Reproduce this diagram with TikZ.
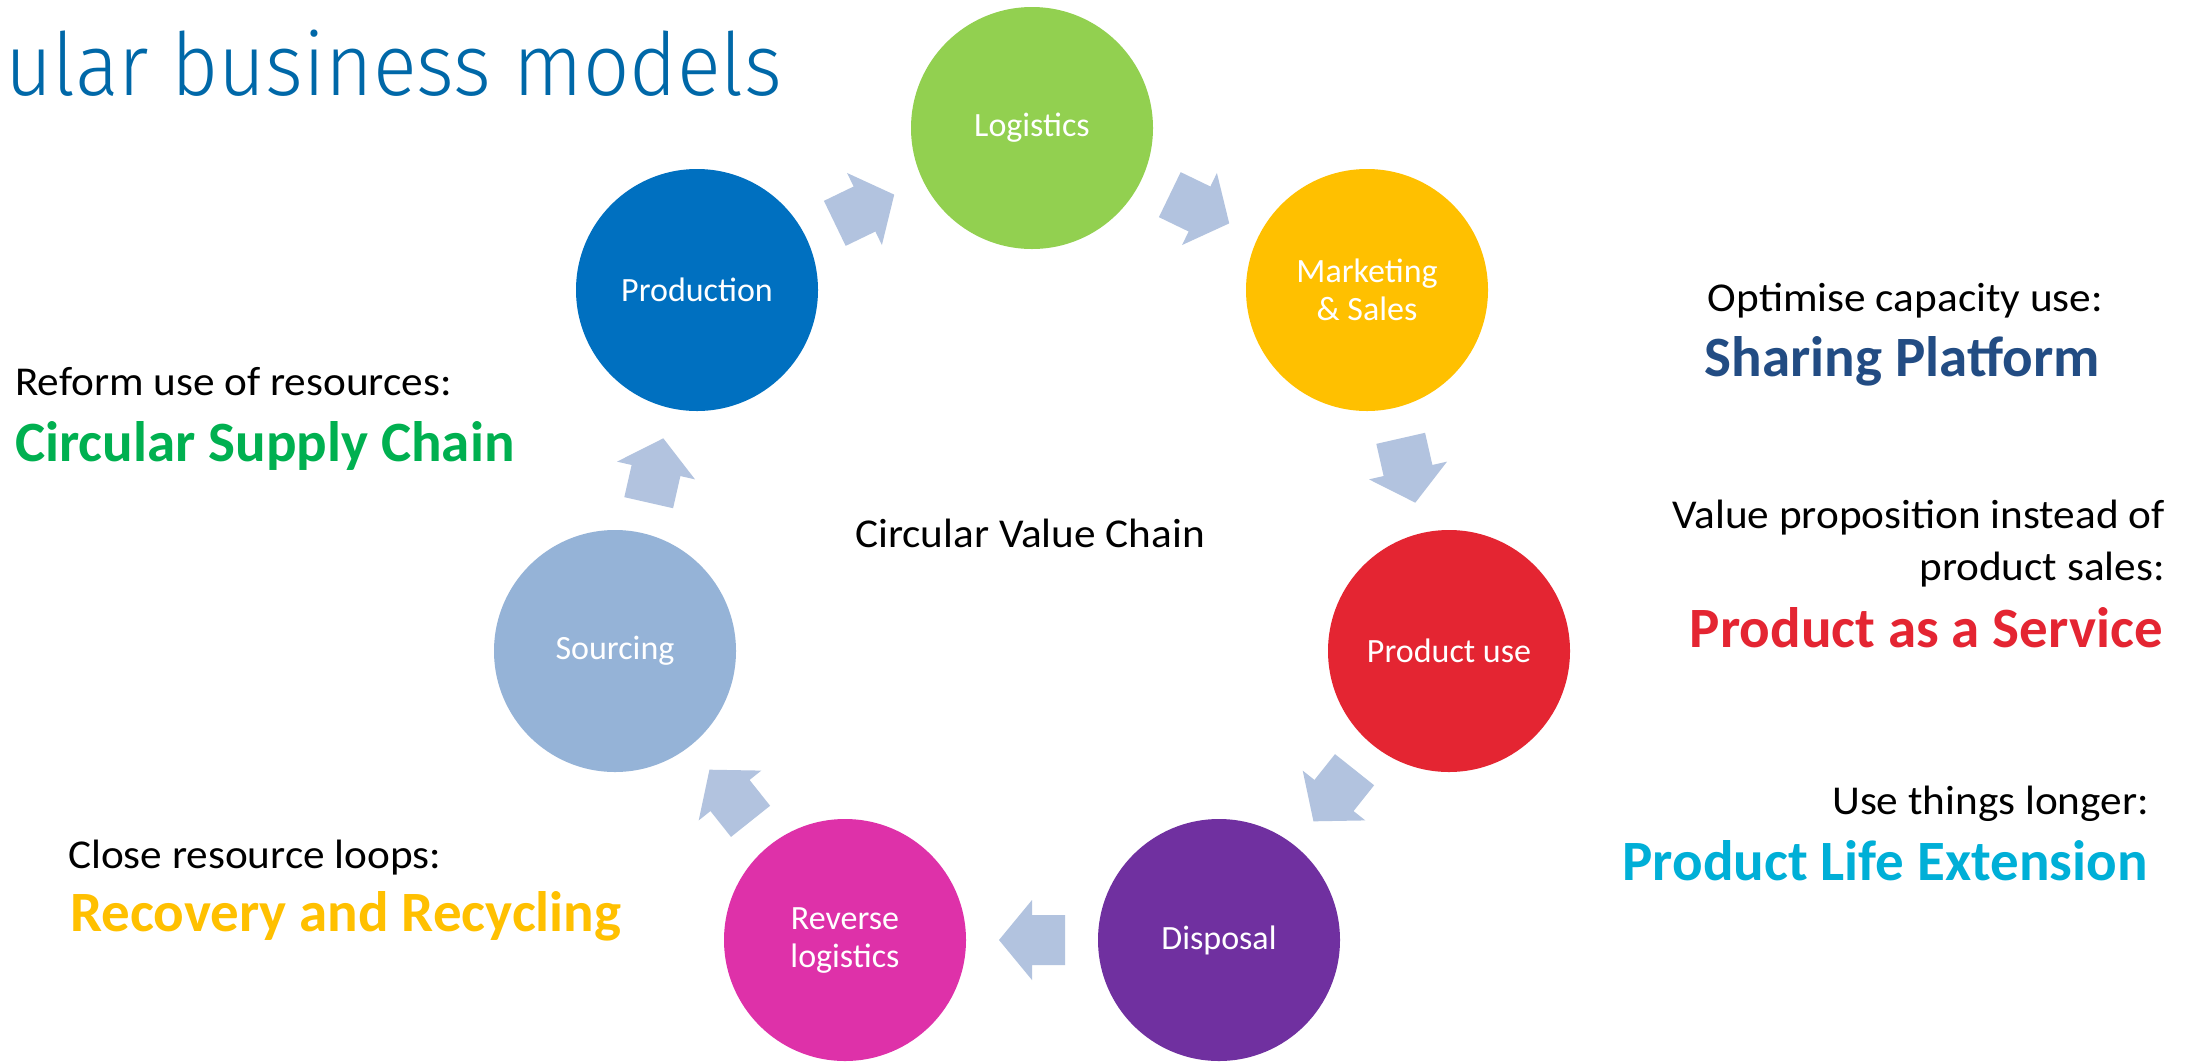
\documentclass[tikz,border=0pt]{standalone}
\usepackage{fontspec}
\setmainfont{Carlito}
\newfontfamily\widefont[FakeStretch=1.055]{Carlito}
\newfontfamily\titlefont{Fira Sans Light}
\usetikzlibrary{calc}
\definecolor{cProd}{HTML}{0070C0}
\definecolor{cLog}{HTML}{92D050}
\definecolor{cMark}{HTML}{FFC000}
\definecolor{cUse}{HTML}{E42532}
\definecolor{cDisp}{HTML}{7030A0}
\definecolor{cRev}{HTML}{DE31A9}
\definecolor{cSrc}{HTML}{95B3D7}
\definecolor{arrowc}{HTML}{B2C3DF}
\definecolor{cGreen}{HTML}{00B050}
\definecolor{cNavy}{HTML}{224C83}
\definecolor{cCyan}{HTML}{00AFD7}
\definecolor{cTitle}{HTML}{0068A8}
\tikzset{
  stage/.style={circle, minimum size=242pt, inner sep=0pt, text=white, align=center,
    font=\fontsize{34}{38}\selectfont},
  lbl/.style={font=\widefont\fontsize{41}{45}\selectfont, inner sep=0pt, text=black},
  bigtxt/.style={font=\bfseries\fontsize{57}{62}\selectfont, inner sep=0pt},
  barrow/.pic={\fill[arrowc] (-33,-25) -- (0,-25) -- (0,-40) -- (33,0) -- (0,40) -- (0,25) -- (-33,25) -- cycle;}
}
\newcommand\flowarrow[2]{\path let \p1=($(#2)-(#1)$), \n1={atan2(\y1,\x1)} in ($(#1)!0.5!(#2)$) pic[rotate=\n1]{barrow};}
\begin{document}
\begin{tikzpicture}[x=1pt,y=-1pt]
\useasboundingbox[fill=white] (0,0) rectangle (2200,1061);
% title
\node[anchor=base west, inner sep=0pt, text=cTitle, font=\titlefont\fontsize{87}{90}\selectfont] (title) at (5,95) {\scalebox{0.935}[1]{ular business models}};
% stages
\node[stage, fill=cLog]  (log)  at (1032,128) {Logistics};
\node[stage, fill=cProd] (prod) at (697,290)  {Production};
\node[stage, fill=cMark] (mark) at (1367,290) {Marketing\\\& Sales};
\node[stage, fill=cSrc]  (src)  at (615,651)  {Sourcing};
\node[stage, fill=cUse]  (use)  at (1449,651) {Product use};
\node[stage, fill=cRev]  (rev)  at (845,940)  {Reverse\\logistics};
\node[stage, fill=cDisp] (disp) at (1219,940) {Disposal};
% arrows
\flowarrow{prod}{log}
\flowarrow{log}{mark}
\flowarrow{mark}{use}
\flowarrow{use}{disp}
\flowarrow{disp}{rev}
\flowarrow{rev}{src}
\flowarrow{src}{prod}
% centre label
\node[lbl, anchor=base west] (cvc) at (855,547) {Circular Value Chain};
% left texts
\node[lbl, anchor=base west] (t1a) at (15,395) {Reform use of resources:};
\node[bigtxt, anchor=base west, text=cGreen] (t1b) at (15,461) {Circular Supply Chain};
\node[lbl, anchor=base west] (t2a) at (68,868) {Close resource loops:};
\node[bigtxt, anchor=base west, text=cMark] (t2b) at (70,931) {Recovery and Recycling};
% right texts
\node[lbl, anchor=base east] (t3a) at (2103,311) {Optimise capacity use:};
\node[bigtxt, anchor=base east, text=cNavy] (t3b) at (2100,376) {Sharing Platform};
\node[lbl, anchor=base east] (t4a) at (2165,528) {Value proposition instead of};
\node[lbl, anchor=base east] (t4b) at (2165,580) {product sales:};
\node[bigtxt, anchor=base east, text=cUse] (t4c) at (2163,647) {Product as a Service};
\node[lbl, anchor=base east] (t5a) at (2149,814) {Use things longer:};
\node[bigtxt, anchor=base east, text=cCyan] (t5b) at (2148,880) {Product Life Extension};
\end{tikzpicture}
\end{document}
